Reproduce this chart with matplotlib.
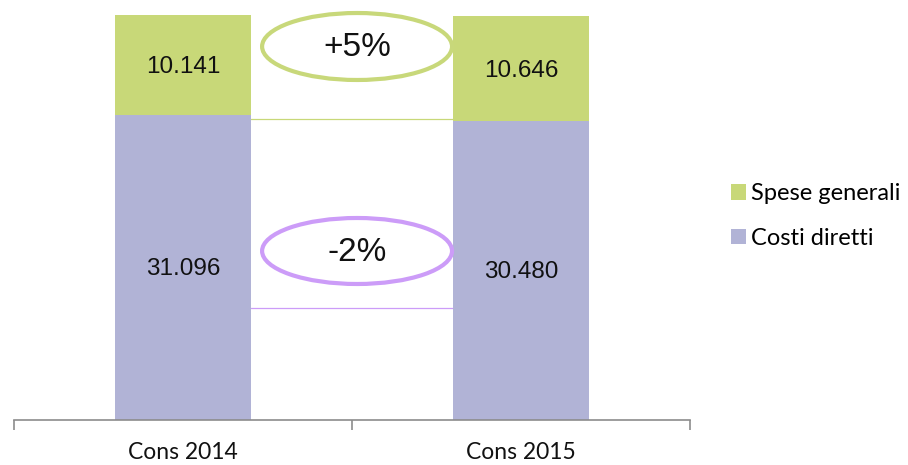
import matplotlib
matplotlib.use("Agg")
import matplotlib.pyplot as plt
from matplotlib.patches import Ellipse, Patch
import numpy as np

categories = ["Cons 2014", "Cons 2015"]
costi_diretti = [31096, 30480]
spese_generali = [10141, 10646]
labels_costi = ["31.096", "30.480"]
labels_spese = ["10.141", "10.646"]
series_names = ["Spese generali", "Costi diretti"]
change_labels = ["+5%", "-2%"]
connector_levels = [30650, 11380]

green = "#C8D878"
purple = "#B1B3D6"
green_ring = "#C8D87A"
purple_ring = "#CC9CF8"

cat_font = "Lato"
num_font = ["Liberation Sans", "DejaVu Sans"]

fig = plt.figure(figsize=(9.08, 4.65), dpi=100)
W, H = 908, 465
ax = fig.add_axes([14 / W, 1 - 420 / H, (690 - 14) / W, (420 - 15) / H])

x = np.arange(len(categories))
totals = np.array(costi_diretti) + np.array(spese_generali)
ax.bar(x, costi_diretti, width=0.4, color=purple, zorder=2)
ax.bar(x, spese_generali, width=0.4, bottom=costi_diretti, color=green, zorder=2)
ax.set_xlim(-0.5, 1.5)
ax.set_ylim(0, totals.max())

for i in range(len(categories)):
    ax.text(x[i], costi_diretti[i] / 2 - 150, labels_costi[i], ha="center", va="center",
            fontsize=17.5, family=num_font, color="#111111", zorder=3)
    ax.text(x[i], costi_diretti[i] + spese_generali[i] / 2 - 250, labels_spese[i], ha="center",
            va="center", fontsize=17.5, family=num_font, color="#111111", zorder=3)

# connector lines between bars
ax.plot([0.2, 0.8], [connector_levels[0]] * 2, color=green, lw=0.9, zorder=1)
ax.plot([0.2, 0.8], [connector_levels[1]] * 2, color=purple_ring, lw=0.9, zorder=1)

# ellipses with change labels
ell_cx = 0.515
ell_w = 0.562
for yc, h, col, lab in [(38030, 6820, green_ring, change_labels[0]),
                        (17208, 6720, purple_ring, change_labels[1])]:
    e = Ellipse((ell_cx, yc), ell_w, h, facecolor="white", edgecolor=col, lw=3.0,
                zorder=4, clip_on=False)
    ax.add_patch(e)
    ax.text(ell_cx, yc - 150, lab, ha="center", va="center", fontsize=24,
            family=num_font, color="#111111", zorder=5)

for s in ["top", "right", "left"]:
    ax.spines[s].set_visible(False)
ax.spines["bottom"].set_color("#8C8C8C")
ax.spines["bottom"].set_linewidth(1.2)
ax.set_yticks([])
ax.set_xticks([-0.5, 0.5, 1.5])
ax.set_xticklabels([])
ax.tick_params(axis="x", length=7, width=1.2, color="#8C8C8C")
ax.set_xticks(x, minor=True)
ax.set_xticklabels(categories, minor=True, family=cat_font, fontsize=16.5, color="#111111")
ax.tick_params(axis="x", which="minor", length=0, pad=16)

handles = [Patch(facecolor=green, edgecolor="none"), Patch(facecolor=purple, edgecolor="none")]
fig.legend(handles, series_names, loc="center left", bbox_to_anchor=(731 / W, 1 - 216 / H),
           frameon=False, prop={"family": cat_font, "size": 17}, handlelength=0.62,
           handleheight=0.62, handletextpad=0.22, labelspacing=1.0, borderpad=0,
           borderaxespad=0)

fig.savefig("out.png", dpi=100)
